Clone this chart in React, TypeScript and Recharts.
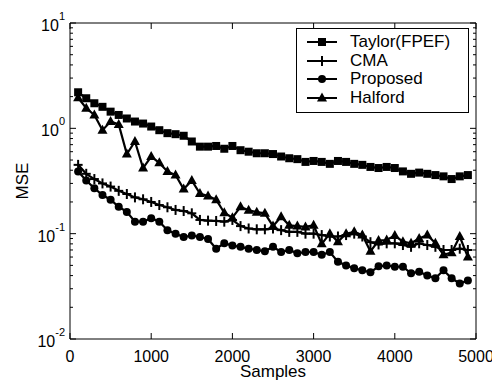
import { LineChart, Line, XAxis, YAxis, Legend, Label } from 'recharts';

const samples = [
  100, 200, 300, 400, 500, 600, 700, 800, 900, 1000,
  1100, 1200, 1300, 1400, 1500, 1600, 1700, 1800, 1900, 2000,
  2100, 2200, 2300, 2400, 2500, 2600, 2700, 2800, 2900, 3000,
  3100, 3200, 3300, 3400, 3500, 3600, 3700, 3800, 3900, 4000,
  4100, 4200, 4300, 4400, 4500, 4600, 4700, 4800, 4900,
];

const taylor = [
  2.2, 1.93, 1.73, 1.6, 1.44, 1.34, 1.24, 1.16, 1.11, 1.04,
  0.96, 0.9, 0.88, 0.85, 0.75, 0.67, 0.67, 0.68, 0.64, 0.68,
  0.62, 0.6, 0.58, 0.58, 0.57, 0.54, 0.52, 0.51, 0.48, 0.49,
  0.48, 0.46, 0.49, 0.48, 0.46, 0.45, 0.43, 0.42, 0.43, 0.42,
  0.39, 0.37, 0.38, 0.37, 0.36, 0.35, 0.33, 0.35, 0.36,
];

const cma = [
  0.45, 0.37, 0.33, 0.3, 0.28, 0.255, 0.238, 0.221, 0.212, 0.2,
  0.187, 0.178, 0.168, 0.164, 0.156, 0.135, 0.133, 0.132, 0.13, 0.135,
  0.118, 0.112, 0.11, 0.11, 0.112, 0.108, 0.104, 0.104, 0.1, 0.1,
  0.097, 0.094, 0.094, 0.097, 0.1, 0.094, 0.083, 0.079, 0.081, 0.081,
  0.078, 0.075, 0.081, 0.078, 0.075, 0.07, 0.07, 0.072, 0.07,
];

const proposed = [
  0.39, 0.32, 0.27, 0.233, 0.21, 0.18, 0.161, 0.13, 0.13, 0.14,
  0.13, 0.108, 0.1, 0.093, 0.096, 0.093, 0.089, 0.072, 0.081, 0.077,
  0.075, 0.072, 0.07, 0.068, 0.075, 0.067, 0.07, 0.065, 0.067, 0.067,
  0.063, 0.067, 0.054, 0.05, 0.047, 0.045, 0.043, 0.049, 0.05, 0.0485,
  0.0485, 0.042, 0.0435, 0.04, 0.0377, 0.045, 0.0377, 0.0337, 0.036,
];

const halford = [
  1.95, 1.55, 1.34, 0.96, 1.16, 1.09, 0.57, 0.75, 0.42, 0.54,
  0.47, 0.39, 0.36, 0.265, 0.32, 0.24, 0.228, 0.21, 0.158, 0.142,
  0.18, 0.167, 0.16, 0.156, 0.118, 0.145, 0.12, 0.118, 0.116, 0.12,
  0.08, 0.1, 0.084, 0.1, 0.104, 0.097, 0.068, 0.086, 0.087, 0.096,
  0.084, 0.081, 0.09, 0.097, 0.081, 0.063, 0.066, 0.094, 0.06,
];

const xTicks = [0, 1000, 2000, 3000, 4000, 5000];
const yMajor = [0.01, 0.1, 1, 10];
const yExp = ['-2', '-1', '0', '1'];
const yMinor = [
  0.02, 0.03, 0.04, 0.05, 0.06, 0.07, 0.08, 0.09,
  0.2, 0.3, 0.4, 0.5, 0.6, 0.7, 0.8, 0.9,
  2, 3, 4, 5, 6, 7, 8, 9,
];
const yTicks = [...yMajor, ...yMinor];

const data = samples.map((x, i) => ({
  x,
  taylor: taylor[i],
  cma: cma[i],
  proposed: proposed[i],
  halford: halford[i],
}));

const FONT = '"Liberation Sans", Arial, sans-serif';
const INK = '#000';

// markers
function marker(kind: string, cx: number, cy: number, key?: any) {
  if (kind === 'square')
    return <rect key={key} x={cx - 4} y={cy - 4} width={8} height={8} fill={INK} />;
  if (kind === 'circle') return <circle key={key} cx={cx} cy={cy} r={4} fill={INK} />;
  if (kind === 'triangle')
    return (
      <polygon
        key={key}
        points={`${cx},${cy - 5.5} ${cx - 5},${cy + 3.5} ${cx + 5},${cy + 3.5}`}
        fill={INK}
      />
    );
  return (
    <g key={key} stroke={INK} strokeWidth={2}>
      <line x1={cx - 4.5} x2={cx + 4.5} y1={cy} y2={cy} />
      <line x1={cx} x2={cx} y1={cy - 5} y2={cy + 5} />
    </g>
  );
}

const series = [
  { key: 'taylor', name: 'Taylor(FPEF)', kind: 'square' },
  { key: 'cma', name: 'CMA', kind: 'plus' },
  { key: 'proposed', name: 'Proposed', kind: 'circle' },
  { key: 'halford', name: 'Halford', kind: 'triangle' },
];

function LeftTick(props: any) {
  const { x, y, payload } = props;
  const i = yMajor.indexOf(payload.value);
  return (
    <g>
      <line x1={x} x2={x + (i >= 0 ? 6 : 3)} y1={y} y2={y} stroke={INK} />
      {i >= 0 && (
        <text x={x - 5} y={y + 8} textAnchor="end" fontSize={16} fontFamily={FONT} fill={INK}>
          <tspan>10</tspan>
          <tspan dy={-11} fontSize={11}>{yExp[i]}</tspan>
        </text>
      )}
    </g>
  );
}

function RightTick(props: any) {
  const { x, y, payload } = props;
  const major = yMajor.indexOf(payload.value) >= 0;
  return <line x1={x} x2={x - (major ? 6 : 3)} y1={y} y2={y} stroke={INK} />;
}

function BottomTick(props: any) {
  const { x, y, payload } = props;
  return (
    <g>
      <line x1={x} x2={x} y1={y} y2={y - 6} stroke={INK} />
      <text x={x} y={y + 23} textAnchor="middle" fontSize={16} fontFamily={FONT} fill={INK}>
        {payload.value}
      </text>
    </g>
  );
}

function TopTick(props: any) {
  const { x, y } = props;
  return <line x1={x} x2={x} y1={y} y2={y + 6} stroke={INK} />;
}

function LegendBox() {
  return (
    <div
      style={{
        width: 173,
        boxSizing: 'border-box',
        border: '1px solid #000',
        background: '#fff',
        padding: '4px 0 5px 8px',
        fontFamily: FONT,
        fontSize: 17,
        color: INK,
      }}
    >
      {series.map((s) => (
        <div key={s.key} style={{ display: 'flex', alignItems: 'center', height: 18.5 }}>
          <svg width={40} height={14} style={{ marginRight: 5 }}>
            <line x1={2} x2={32} y1={7} y2={7} stroke={INK} strokeWidth={2} />
            {marker(s.kind, 17, 7)}
          </svg>
          <span style={{ lineHeight: '18px' }}>{s.name}</span>
        </div>
      ))}
    </div>
  );
}

export default function App() {
  return (
    <div style={{ width: 492, height: 373, background: '#fff', fontFamily: FONT }}>
      <LineChart width={492} height={373} data={data} margin={{ top: 14, right: 23, left: 0, bottom: 0 }}>
        <XAxis
          dataKey="x"
          type="number"
          domain={[0, 5000]}
          ticks={xTicks}
          interval={0}
          allowDataOverflow
          height={42}
          tickSize={0}
          tickMargin={0}
          tickLine={false}
          tick={<BottomTick />}
          axisLine={{ stroke: INK }}
        >
          <Label value="Samples" position="insideBottom" offset={4} fontSize={17} fontFamily={FONT} fill={INK} />
        </XAxis>
        <XAxis
          xAxisId="top"
          orientation="top"
          dataKey="x"
          type="number"
          domain={[0, 5000]}
          ticks={xTicks}
          interval={0}
          allowDataOverflow
          height={1}
          tickSize={0}
          tickMargin={0}
          tickLine={false}
          tick={<TopTick />}
          axisLine={{ stroke: INK }}
        />
        <YAxis
          type="number"
          scale="log"
          domain={[0.01, 10]}
          ticks={yTicks}
          interval={0}
          allowDataOverflow
          width={62}
          tickSize={0}
          tickMargin={0}
          tickLine={false}
          tick={<LeftTick />}
          axisLine={{ stroke: INK }}
        >
          <Label
            value="MSE"
            angle={-90}
            position="insideLeft"
            offset={14}
            fontSize={17}
            fontFamily={FONT}
            fill={INK}
            style={{ textAnchor: 'middle' }}
          />
        </YAxis>
        <YAxis
          yAxisId="right"
          orientation="right"
          type="number"
          scale="log"
          domain={[0.01, 10]}
          ticks={yTicks}
          interval={0}
          allowDataOverflow
          width={1}
          tickSize={0}
          tickMargin={0}
          tickLine={false}
          tick={<RightTick />}
          axisLine={{ stroke: INK }}
        />
        <Legend
          layout="vertical"
          align="center"
          verticalAlign="middle"
          wrapperStyle={{ top: 20, left: 288, width: 173 }}
          content={() => <LegendBox />}
        />
        {series.map((s) => (
          <Line
            key={s.key}
            dataKey={s.key}
            name={s.name}
            stroke={INK}
            strokeWidth={2.2}
            dot={(p: any) => marker(s.kind, p.cx, p.cy, `${s.key}-${p.index}`)}
            activeDot={false}
            isAnimationActive={false}
          />
        ))}
        <Line
          xAxisId="top"
          yAxisId="right"
          dataKey="taylor"
          stroke="none"
          dot={false}
          activeDot={false}
          legendType="none"
          isAnimationActive={false}
        />
      </LineChart>
    </div>
  );
}
